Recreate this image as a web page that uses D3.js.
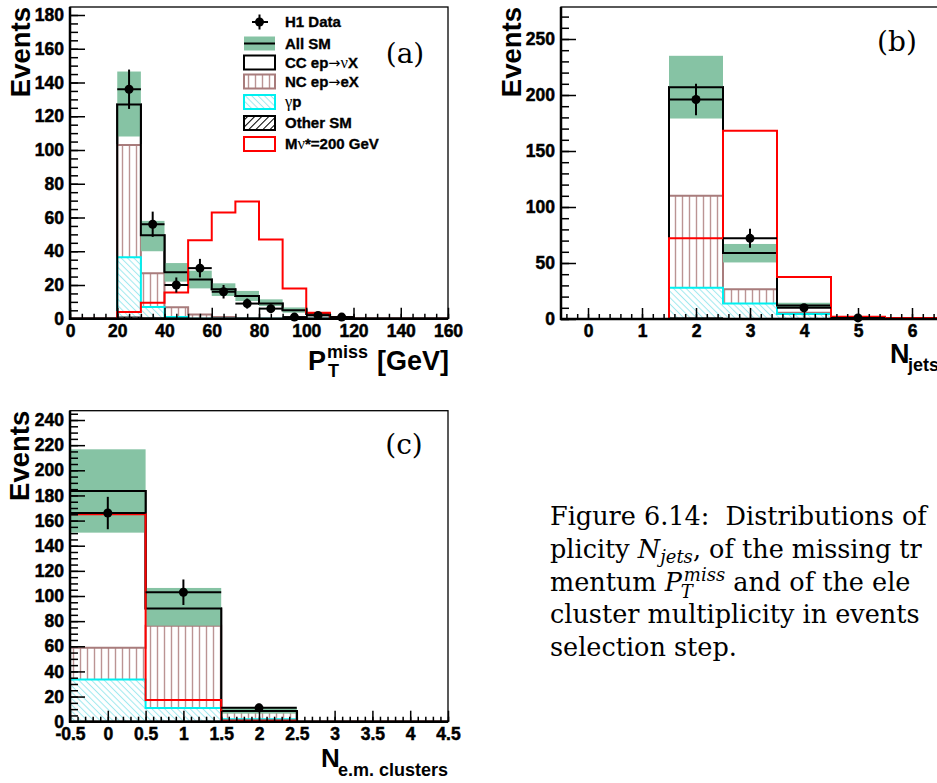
<!DOCTYPE html>
<html><head><meta charset="utf-8">
<script src="https://cdn.jsdelivr.net/npm/d3@7"></script>
<style>body{margin:0;background:#fff}</style>
</head><body>
<svg id="fig" width="937" height="783" xmlns="http://www.w3.org/2000/svg"></svg>
<script>
// ---------- Panel (a): missing transverse momentum, 10 GeV bins ----------
const ptCenters = [5,15,25,35,45,55,65,75,85,95,105,115,125,135,145,155];
const ptOther   = [0,0,1,0.5,0.3,0,0,0,0,0,0,0,0,0,0,0];
const ptGammaP  = [0,0,35.5,6.5,0.7,0,0,0,0,0,0,0,0,0,0,0];
const ptNC      = [0,0,66.5,20,5.8,2.5,1,0.5,0,0,0,0,0,0,0,0];
const ptCC      = [0,0,24,22.5,20.7,20.7,16.5,13,9,5,3,1,0,0,0,0];
const ptBandLo  = [0,0,108,40,22,18,13.5,10.5,7.5,3.6,1.6,0.5,0,0,0,0];
const ptBandHi  = [0,0,146.5,58,33,28.5,21,16.5,11.5,6.7,4,1.6,0,0,0,0];
const ptSignal  = [0,0,4,9.5,15.5,46.5,63,69.5,47,18,3.5,0.8,0,0,0,0];
const ptData    = [null,null,136,56,20,30,16,9,6,1,2,1,null,null,null,null];
const ptXTicks  = [0,20,40,60,80,100,120,140,160];
const ptYTicks  = [0,20,40,60,80,100,120,140,160,180];

// ---------- Panel (b): jet multiplicity ----------
const njCenters = [0,1,2,3,4,5,6];
const njOther   = [0,0,1,0.5,0.5,0,0];
const njGammaP  = [0,0,27,13.3,4,0,0];
const njNC      = [0,0,82,12.8,1,0,0];
const njCC      = [0,0,97,32.4,6.5,0.5,0];
const njBandLo  = [0,0,179,50.5,10,0,0];
const njBandHi  = [0,0,235,67,14.5,1,0];
const njSignal  = [0,0,72,168,37.5,2,1];
const njData    = [null,null,196,72,10,1,null];
const njXTicks  = [0,1,2,3,4,5,6];
const njYTicks  = [0,50,100,150,200,250];

// ---------- Panel (c): e.m. cluster multiplicity ----------
const emCenters = [0,1,2,3,4];
const emOther   = [0.5,0.5,0,0,0];
const emGammaP  = [33,10.4,2,0,0];
const emNC      = [25.4,65.5,5.5,0,0];
const emCC      = [124.6,13.6,1,0,0];
const emBandLo  = [150.4,76.4,6.5,0,0];
const emBandHi  = [216.7,106.4,11,0,0];
const emSignal  = [165,17.2,1,0,0];
const emData    = [166,103,11,null,null];
const emXTicks  = [-0.5,0,0.5,1,1.5,2,2.5,3,3.5,4,4.5];
const emYTicks  = [0,20,40,60,80,100,120,140,160,180,200,220,240];

// legend labels: pieces [text, kind] (0 = bold sans, 1 = symbol letter, 2 = arrow)
const legendLabels = [
  [["H1 Data",0]],
  [["All SM",0]],
  [["CC ep",0],["\u2192",2],["\u03bd",1],["X",0]],
  [["NC ep",0],["\u2192",2],["eX",0]],
  [["\u03b3",1],["p",0]],
  [["Other SM",0]],
  [["M",0],["\u03bd",1],["*=200 GeV",0]]
];

const SANS = "'Liberation Sans', Arial, Helvetica, sans-serif";
const SERIF = "'DejaVu Serif', serif";
const SYM = "'Liberation Serif', 'DejaVu Serif', serif";
const GREEN = "#86c3a4", BROWN = "#a87c7c", BROWN_H = "#bb9494", CYAN = "#00f0f0", RED = "#ff0000";

const svg = d3.select("#fig");
svg.append("rect").attr("width",937).attr("height",783).attr("fill","#fff");
const defs = svg.append("defs");
function hatch(id, angle, spacing, color, width) {
  const p = defs.append("pattern").attr("id", id).attr("patternUnits","userSpaceOnUse")
    .attr("width", spacing).attr("height", spacing).attr("patternTransform", `rotate(${angle})`);
  p.append("rect").attr("width", spacing).attr("height", spacing).attr("fill","#fff");
  p.append("line").attr("x1", spacing/2).attr("x2", spacing/2).attr("y1",-1).attr("y2",spacing+1)
    .attr("stroke",color).attr("stroke-width",width);
}
hatch("ncH", 0, 7, BROWN_H, 1.4);
hatch("gpH", -45, 4.5, "#9fe9ee", 1);
hatch("otH", 45, 5, "#000", 1);

const heavy = sel => sel.attr("stroke","#000").attr("stroke-width",0.5).attr("paint-order","stroke");

function panel(cfg) {
  const g = svg.append("g");
  const x = d3.scaleLinear().domain(cfg.xDomain).range([cfg.x0, cfg.x1]);
  const y = d3.scaleLinear().domain(cfg.yDomain).range([cfg.yBot, cfg.yTop]);
  const w = cfg.binWidth;
  const lo = i => cfg.centers[i] - w/2, hi = i => cfg.centers[i] + w/2;
  const clipId = "clip" + cfg.name;
  defs.append("clipPath").attr("id", clipId).append("rect")
    .attr("x", cfg.x0).attr("y", cfg.yTop).attr("width", cfg.x1 - cfg.x0).attr("height", cfg.yBot - cfg.yTop);
  const pg = g.append("g").attr("clip-path", `url(#${clipId})`);

  const rows = cfg.centers.map((c,i) => ({other:cfg.other[i], gp:cfg.gp[i], nc:cfg.nc[i], cc:cfg.cc[i]}));
  const stack = d3.stack().keys(["other","gp","nc","cc"])(rows);
  const cum = k => stack[k].map(d => d[1]);

  const stepPts = vals => { const p = []; vals.forEach((v,i) => { p.push([lo(i), v]); p.push([hi(i), v]); }); return p; };
  const outlinePts = vals => { const p = stepPts(vals); return [[p[0][0],0], ...p, [p[p.length-1][0],0]]; };
  const area = d3.area().x(d => x(d[0])).y0(y(0)).y1(d => y(d[1]));
  const line = d3.line().x(d => x(d[0])).y(d => y(d[1]));

  const layers = [
    {k:3, fill:"#fff", stroke:"#000", sw:2},
    {k:2, fill:"url(#ncH)", stroke:BROWN, sw:2},
    {k:1, fill:"url(#gpH)", stroke:CYAN, sw:2},
    {k:0, fill:"url(#otH)", stroke:"#000", sw:1}
  ];
  layers.forEach(L => {
    const vals = cum(L.k);
    pg.append("path").attr("d", area(stepPts(vals))).attr("fill", L.fill);
    pg.append("path").attr("d", line(outlinePts(vals))).attr("fill","none").attr("stroke", L.stroke).attr("stroke-width", L.sw);
  });

  // uncertainty band on the total SM
  cfg.centers.forEach((c,i) => {
    if (cfg.bandHi[i] > 0) pg.append("rect").attr("x", x(lo(i))).attr("width", x(hi(i)) - x(lo(i)))
      .attr("y", y(cfg.bandHi[i])).attr("height", y(cfg.bandLo[i]) - y(cfg.bandHi[i])).attr("fill", GREEN);
  });
  // total SM line
  pg.append("path").attr("d", line(outlinePts(cum(3)))).attr("fill","none").attr("stroke","#000").attr("stroke-width",2);
  // signal
  pg.append("path").attr("d", line(outlinePts(cfg.signal))).attr("fill","none").attr("stroke",RED).attr("stroke-width",2);

  // data points
  const dg = g.append("g");
  cfg.data.forEach((v,i) => {
    if (v === null) return;
    const e = Math.sqrt(v);
    dg.append("line").attr("x1", x(lo(i))).attr("x2", x(hi(i))).attr("y1", y(v)).attr("y2", y(v)).attr("stroke","#000").attr("stroke-width",2);
    dg.append("line").attr("x1", x(cfg.centers[i])).attr("x2", x(cfg.centers[i])).attr("y1", y(Math.max(0,v-e))).attr("y2", y(v+e)).attr("stroke","#000").attr("stroke-width",2);
    dg.append("circle").attr("cx", x(cfg.centers[i])).attr("cy", y(v)).attr("r", 4.5).attr("fill","#000");
  });

  // axes
  const fmt = d => String(d);
  const styleAxis = sel => {
    sel.select(".domain").remove();
    sel.selectAll(".tick line").attr("stroke","#000").attr("stroke-width",1.5);
    sel.attr("font-family", SANS).attr("font-size", 17.5).attr("font-weight","bold");
    sel.selectAll("text").attr("fill","#000").call(heavy);
  };
  g.append("g").attr("transform", `translate(${cfg.x0},0)`)
    .call(d3.axisLeft(y).tickValues(cfg.yMinor).tickSize(-8).tickFormat("")).call(styleAxis);
  g.append("g").attr("transform", `translate(${cfg.x0},0)`)
    .call(d3.axisLeft(y).tickValues(cfg.yTicks).tickSize(-15).tickPadding(6).tickFormat(fmt)).call(styleAxis);
  g.append("g").attr("transform", `translate(0,${cfg.yBot})`)
    .call(d3.axisBottom(x).tickValues(cfg.xMinor).tickSize(-5).tickFormat("")).call(styleAxis);
  g.append("g").attr("transform", `translate(0,${cfg.yBot})`)
    .call(d3.axisBottom(x).tickValues(cfg.xTicks).tickSize(-11).tickPadding(5.5).tickFormat(fmt)).call(styleAxis);

  // frame
  g.append("rect").attr("x", cfg.x0).attr("y", cfg.yTop).attr("width", cfg.x1 - cfg.x0).attr("height", cfg.yBot - cfg.yTop)
    .attr("fill","none").attr("stroke","#000").attr("stroke-width",1.3);
  g.append("line").attr("x1", cfg.x0).attr("x2", cfg.x0).attr("y1", cfg.yTop).attr("y2", cfg.yBot + 1).attr("stroke","#000").attr("stroke-width",2.5);
  g.append("line").attr("x1", cfg.x0 - 1).attr("x2", cfg.x1).attr("y1", cfg.yBot).attr("y2", cfg.yBot).attr("stroke","#000").attr("stroke-width",2.5);

  // y title
  g.append("text").attr("transform", `translate(${cfg.yTitleX},${cfg.yTop}) rotate(-90)`)
    .attr("text-anchor","end").attr("font-family", SANS).attr("font-weight","bold").attr("font-size", 27.5).text("Events");
  // panel label
  g.append("text").attr("x", cfg.labelX).attr("y", cfg.labelY).attr("text-anchor","middle")
    .attr("font-family", SERIF).attr("font-weight", 300).attr("font-size", 28).text(cfg.label);
  return {g, x, y};
}

const range = (a,b,s) => d3.range(a, b + s/2, s);

panel({name:"a", x0:70, x1:448, yTop:7, yBot:318.75, xDomain:[0,160], yDomain:[0,(318.75-7)/1.6875],
  centers:ptCenters, binWidth:10, other:ptOther, gp:ptGammaP, nc:ptNC, cc:ptCC, bandLo:ptBandLo, bandHi:ptBandHi,
  signal:ptSignal, data:ptData, xTicks:ptXTicks, yTicks:ptYTicks, xMinor:range(0,160,5), yMinor:range(0,180,5),
  yTitleX:29.5, label:"(a)", labelX:405, labelY:63});

panel({name:"b", x0:561, x1:939, yTop:7, yBot:319, xDomain:[-0.5,6.5], yDomain:[0,312/1.12],
  centers:njCenters, binWidth:1, other:njOther, gp:njGammaP, nc:njNC, cc:njCC, bandLo:njBandLo, bandHi:njBandHi,
  signal:njSignal, data:njData, xTicks:njXTicks, yTicks:njYTicks, xMinor:range(-0.4,6.4,0.2), yMinor:range(0,270,10),
  yTitleX:520.5, label:"(b)", labelX:897, labelY:51});

panel({name:"c", x0:70, x1:448, yTop:410.7, yBot:721.7, xDomain:[-0.5,4.5], yDomain:[0,311/1.257],
  centers:emCenters, binWidth:1, other:emOther, gp:emGammaP, nc:emNC, cc:emCC, bandLo:emBandLo, bandHi:emBandHi,
  signal:emSignal, data:emData, xTicks:emXTicks, yTicks:emYTicks, xMinor:range(-0.5,4.5,0.1), yMinor:range(0,245,5),
  yTitleX:29.3, label:"(c)", labelX:404, labelY:454});

// x-axis titles
function t(x, y, s, size) {
  return svg.append("text").attr("x", x).attr("y", y).attr("font-family", SANS).attr("font-weight","bold")
    .attr("font-size", size).text(s);
}
t(308, 369.5, "P", 27);
t(327, 357.5, "miss", 18);
t(328, 376.5, "T", 18);
t(377, 369.5, "[GeV]", 27);
t(890, 363, "N", 27);
t(908, 371, "jets", 18);
t(321, 767, "N", 26);
t(338, 776, "e.m. clusters", 18);

// legend (panel a)
const lg = svg.append("g");
const rowsY = [22, 43.5, 62.5, 81.5, 102, 123, 144];
const bx = 244, bw = 31, bh = 14;
lg.append("line").attr("x1",252).attr("x2",268).attr("y1",rowsY[0]).attr("y2",rowsY[0]).attr("stroke","#000").attr("stroke-width",2);
lg.append("line").attr("x1",259.5).attr("x2",259.5).attr("y1",rowsY[0]-7.5).attr("y2",rowsY[0]+7.5).attr("stroke","#000").attr("stroke-width",2);
lg.append("circle").attr("cx",259.5).attr("cy",rowsY[0]).attr("r",4.5).attr("fill","#000");
lg.append("rect").attr("x",bx).attr("y",rowsY[1]-bh/2).attr("width",bw).attr("height",bh).attr("fill",GREEN);
lg.append("line").attr("x1",bx).attr("x2",bx+bw).attr("y1",rowsY[1]).attr("y2",rowsY[1]).attr("stroke","#000").attr("stroke-width",2);
const boxStyles = [null, null,
  {fill:"#fff", stroke:"#000"},
  {fill:"url(#ncH)", stroke:BROWN},
  {fill:"url(#gpH)", stroke:CYAN},
  {fill:"url(#otH)", stroke:"#000"},
  {fill:"#fff", stroke:RED}];
boxStyles.forEach((s,i) => {
  if (!s) return;
  lg.append("rect").attr("x",bx).attr("y",rowsY[i]-bh/2).attr("width",bw).attr("height",bh)
    .attr("fill",s.fill).attr("stroke",s.stroke).attr("stroke-width",2);
});
legendLabels.forEach((pieces,i) => {
  const tx = lg.append("text").attr("x",285).attr("y",rowsY[i]+5.3).attr("font-family",SANS).attr("font-weight","bold")
    .attr("font-size",15);
  pieces.forEach(([s, kind]) => {
    const ts = tx.append("tspan").text(s);
    if (kind === 1) ts.attr("font-family", SYM).attr("font-weight","normal").attr("font-size",16.5);
    else if (kind === 2) ts.attr("font-family", "'DejaVu Sans', sans-serif").attr("font-weight","normal").attr("font-size",14.5);
    else ts.call(heavy).attr("stroke-width",0.35);
  });
});

// caption
const cap = svg.append("g").attr("font-family", SERIF).attr("fill","#000");
function flow(x0, y0, pieces) {
  let xc = x0;
  pieces.forEach(p => {
    if (p.stack) {
      let wmax = 0;
      p.stack.forEach(q => {
        const e = cap.append("text").attr("x", xc + (q.dx||0)).attr("y", y0 + q.dy)
          .attr("font-size", q.size).attr("font-style","italic").text(q.t);
        wmax = Math.max(wmax, e.node().getComputedTextLength() + (q.dx||0));
      });
      xc += wmax;
      return;
    }
    const e = cap.append("text").attr("x", xc).attr("y", y0 + (p.dy||0))
      .attr("font-size", p.size || 25.5).attr("font-style", p.it ? "italic" : "normal")
      .style("white-space","pre").text(p.t);
    xc += e.node().getComputedTextLength();
  });
}
flow(550, 525, [{t:"Figure 6.14:\u00a0\u00a0Distributions of"}]);
flow(550, 558, [{t:"plicity "},{t:"N", it:true},{t:"jets", it:true, size:18, dy:5},{t:", of the missing tr"}]);
flow(550, 590.5, [{t:"mentum "},{t:"P", it:true},{stack:[{t:"miss", size:18, dy:-10, dx:2},{t:"T", size:18, dy:7.5, dx:-1}]},{t:" and of the ele"}]);
flow(550, 623, [{t:"cluster multiplicity in events"}]);
flow(550, 655.5, [{t:"selection step."}]);
</script>
</body></html>
